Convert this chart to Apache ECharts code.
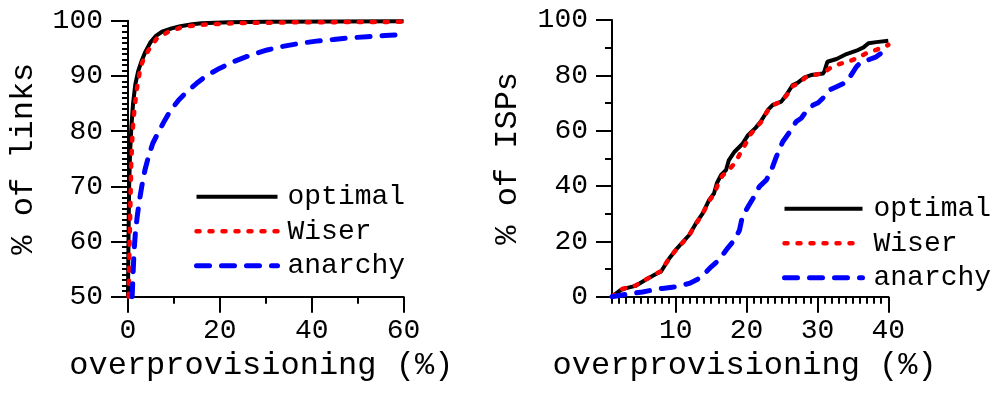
<!DOCTYPE html>
<html>
<head>
<meta charset="utf-8">
<title>Overprovisioning CDFs</title>
<script src="https://cdn.jsdelivr.net/npm/echarts@6/dist/echarts.min.js"></script>
<style>
  html, body { margin: 0; padding: 0; background: #fff; }
  #chart { width: 998px; height: 393px; }
</style>
</head>
<body>
<div id="chart"></div>
<script>
// Series names shared by both panels
const seriesNames = ['optimal', 'Wiser', 'anarchy'];

// Left panel: CDF of links, [overprovisioning %, % of links]
const linksOptimal = [
  [0, 50], [0.1, 60], [0.25, 70], [0.45, 76], [0.75, 81], [1.1, 85], [1.6, 88.5],
  [2.2, 90.8], [3, 92.8], [3.8, 94.4], [4.9, 96.1], [6, 97.2], [7.4, 98], [9.5, 98.6],
  [11.4, 99], [14, 99.35], [16, 99.55], [22, 99.7], [30, 99.8], [45, 99.85], [60, 99.9]
];
const linksWiser = [
  [0.15, 50], [0.3, 58], [0.5, 66], [0.7, 74], [1.0, 80], [1.4, 84], [1.9, 87.5],
  [2.7, 91.5], [3.5, 93.3], [4.5, 94.7], [6.3, 96.8], [8.8, 98], [12, 98.9],
  [16, 99.25], [23, 99.55], [35, 99.7], [60, 99.8]
];
const linksAnarchy = [
  [0.9, 50], [1.1, 54], [1.3, 58], [1.6, 61.5], [2, 64.5], [2.5, 67.5], [3, 70],
  [3.7, 73], [4.5, 75.5], [5.4, 77.8], [6.5, 79.6], [7.9, 81.8], [9.3, 83.8],
  [11, 85.6], [12.8, 87.1], [15, 88.7], [17.2, 90.1], [20, 91.4], [23, 92.6],
  [26.5, 93.7], [30.3, 94.7], [34, 95.4], [37.5, 95.9], [41, 96.3], [44.8, 96.6],
  [48.5, 96.9], [52, 97.1], [56, 97.3], [60, 97.5]
];

// Right panel: CDF of ISPs, [overprovisioning %, % of ISPs]
const ispOptimal = [
  [1, 0], [2.2, 2.4], [2.9, 3], [4.3, 3.9], [5.7, 6], [7.2, 8.2], [7.9, 9], [9.1, 13.9],
  [10, 16.9], [10.9, 19.5], [11.9, 22.3], [12.8, 26.3], [13.8, 30.1], [14.7, 34.9],
  [15.4, 37.3], [15.8, 41], [16.4, 44], [17.1, 45.8], [17.5, 49.4], [18.3, 52.4],
  [19.4, 55.2], [20.2, 58.4], [21.3, 61.1], [22, 63.3], [23, 67.5], [23.7, 69.3],
  [24.9, 70.5], [25.6, 72.9], [26.5, 76.5], [27.2, 77.3], [28.2, 79.3], [29.1, 80.1],
  [30.8, 80.7], [31, 81.6], [31.4, 84.9], [32.7, 85.9], [34.1, 87.7], [35.5, 88.9],
  [36.5, 90.1], [37.2, 91.6], [38.3, 92], [40, 92.5]
];
const ispWiser = [
  [1, 0], [2.2, 2.6], [3, 3.2], [4.3, 4], [5.7, 6.1], [7.2, 8.3], [7.9, 9.2], [9.1, 14],
  [10, 16.8], [10.9, 19.3], [11.9, 22.2], [12.8, 26.2], [13.8, 30], [14.7, 34.5],
  [15.5, 37.5], [16, 41], [16.6, 43.8], [17.3, 45.2], [18.5, 48.8], [19.2, 52.4],
  [19.9, 55.4], [20.4, 58.2], [21.3, 61], [22, 63], [23, 67.3], [23.7, 69.2],
  [24.9, 70.6], [25.7, 73], [26.6, 76.3], [27.3, 77], [28.3, 79.2], [29.2, 80],
  [30.5, 80.6], [31.3, 81.7], [31.7, 82.5], [33.1, 84.1], [34.3, 84.9], [35.5, 86.1],
  [36.9, 88], [38.3, 89.2], [40, 91]
];
const ispAnarchy = [
  [1, 0], [2.4, 0.6], [3.9, 1.2], [5.3, 1.7], [6.7, 2.4], [8.1, 3], [10, 3.6],
  [11.9, 4.8], [13.1, 6.3], [14.3, 9], [15, 10.8], [16.1, 13.3], [17.3, 17.5],
  [18.3, 20.5], [19, 24.1], [19.4, 28.9], [20.2, 32.5], [20.9, 35.5], [21.8, 39.8],
  [22.8, 42.2], [23.5, 45.8], [24.2, 50.6], [25.1, 56], [26.1, 59.6], [27, 63.3],
  [27.7, 64.5], [28.4, 66.9], [29.4, 69.3], [30.1, 70.1], [31, 72.3], [31.7, 74.7],
  [32.7, 75.9], [33.9, 77.3], [34.6, 79.5], [35.5, 83.1], [36.2, 84.9], [37.4, 85.8],
  [38.3, 86.7], [39.3, 88.6], [40, 90.4]
];

// Labelled (long) ticks on the right panel x axis, which starts at 1
const ispMajorTicks = [10, 20, 30, 40];

const FONT = 'Liberation Mono';
const INK = '#000';

const lineStyles = {
  optimal: { color: '#000000', width: 4, type: 'solid' },
  Wiser:   { color: '#ff0000', width: 4.5, type: [3, 10], cap: 'round' },
  anarchy: { color: '#0000ff', width: 5, type: [13, 12], cap: 'round' }
};

function makeSeries(name, data, axisIdx) {
  const ls = lineStyles[name];
  return {
    name: name,
    type: 'line',
    xAxisIndex: axisIdx,
    yAxisIndex: axisIdx,
    data: data,
    showSymbol: false,
    symbol: 'none',
    animation: false,
    lineStyle: ls,
    itemStyle: { color: ls.color }
  };
}

// Legend entries carry the full line width; the marker dot is hidden
function legendData() {
  return seriesNames.map(function (n) {
    return { name: n, lineStyle: { width: lineStyles[n].width } };
  });
}

function makeLegend(left, top, itemWidth, textGap) {
  return {
    data: legendData(), orient: 'vertical', left: left, top: top, padding: 0,
    itemWidth: itemWidth, itemHeight: 14, itemGap: 0,
    itemStyle: { opacity: 0 },
    textStyle: { color: INK, fontFamily: FONT, fontSize: 28, lineHeight: 34.5, padding: [0, 0, 0, textGap] }
  };
}

const axisLine = { show: true, onZero: false, lineStyle: { color: INK, width: 2 } };
const tickLabel = { color: INK, fontFamily: FONT, fontSize: 28 };
const nameStyle = { color: INK, fontFamily: FONT, fontSize: 32 };

const chart = echarts.init(document.getElementById('chart'), null, { renderer: 'canvas' });

chart.setOption({
  backgroundColor: '#ffffff',
  animation: false,
  grid: [
    { left: 128, top: 20.7, width: 275.6, height: 276 },
    { left: 612, top: 20, width: 276.3, height: 276.7 }
  ],
  legend: [
    makeLegend(194, 179.5, 81, 5),
    makeLegend(782, 191.5, 78, 6)
  ],
  xAxis: [
    {
      gridIndex: 0, type: 'value', min: 0, max: 60, interval: 20,
      name: 'overprovisioning (%)', nameLocation: 'middle', nameGap: 48,
      nameTextStyle: Object.assign({ padding: [0, 9, 0, 0] }, nameStyle),
      axisLine: axisLine,
      axisTick: { show: true, length: 16, lineStyle: { color: INK, width: 2 } },
      minorTick: { show: true, splitNumber: 2, length: 7, lineStyle: { color: INK, width: 2 } },
      axisLabel: Object.assign({ margin: 20 }, tickLabel),
      splitLine: { show: false }
    },
    {
      // right panel x axis: a short tick at every unit, labels every 10
      gridIndex: 1, type: 'value', min: 1, max: 40, interval: 1, position: 'bottom',
      name: 'overprovisioning (%)', nameLocation: 'middle', nameGap: 48,
      nameTextStyle: Object.assign({ padding: [0, 11, 0, 0] }, nameStyle),
      axisLine: axisLine,
      axisTick: { show: true, length: 7, lineStyle: { color: INK, width: 2 } },
      axisLabel: Object.assign({
        margin: 20,
        formatter: function (v) { return ispMajorTicks.indexOf(v) >= 0 ? String(v) : ''; }
      }, tickLabel),
      splitLine: { show: false }
    },
    {
      // long ticks at the labelled values of the right panel
      gridIndex: 1, type: 'value', min: 1, max: 40, position: 'bottom',
      axisLine: { show: false },
      axisTick: { show: true, length: 16, customValues: ispMajorTicks, lineStyle: { color: INK, width: 2 } },
      axisLabel: { show: false },
      splitLine: { show: false }
    }
  ],
  yAxis: [
    {
      gridIndex: 0, type: 'value', min: 50, max: 100, interval: 10,
      name: '% of links', nameLocation: 'middle', nameGap: 88, nameTextStyle: nameStyle,
      axisLine: axisLine,
      axisTick: { show: true, length: 17, lineStyle: { color: INK, width: 2 } },
      minorTick: { show: true, splitNumber: 10, length: 6, lineStyle: { color: INK, width: 2 } },
      axisLabel: Object.assign({ margin: 25 }, tickLabel),
      splitLine: { show: false }
    },
    {
      gridIndex: 1, type: 'value', min: 0, max: 100, interval: 20,
      name: '% of ISPs', nameLocation: 'middle', nameGap: 88, nameTextStyle: nameStyle,
      axisLine: axisLine,
      axisTick: { show: true, length: 16, lineStyle: { color: INK, width: 2 } },
      minorTick: { show: true, splitNumber: 2, length: 7, lineStyle: { color: INK, width: 2 } },
      axisLabel: Object.assign({ margin: 24 }, tickLabel),
      splitLine: { show: false }
    }
  ],
  series: [
    makeSeries('optimal', linksOptimal, 0),
    makeSeries('Wiser', linksWiser, 0),
    makeSeries('anarchy', linksAnarchy, 0),
    makeSeries('optimal', ispOptimal, 1),
    makeSeries('Wiser', ispWiser, 1),
    makeSeries('anarchy', ispAnarchy, 1)
  ]
});
</script>
</body>
</html>
